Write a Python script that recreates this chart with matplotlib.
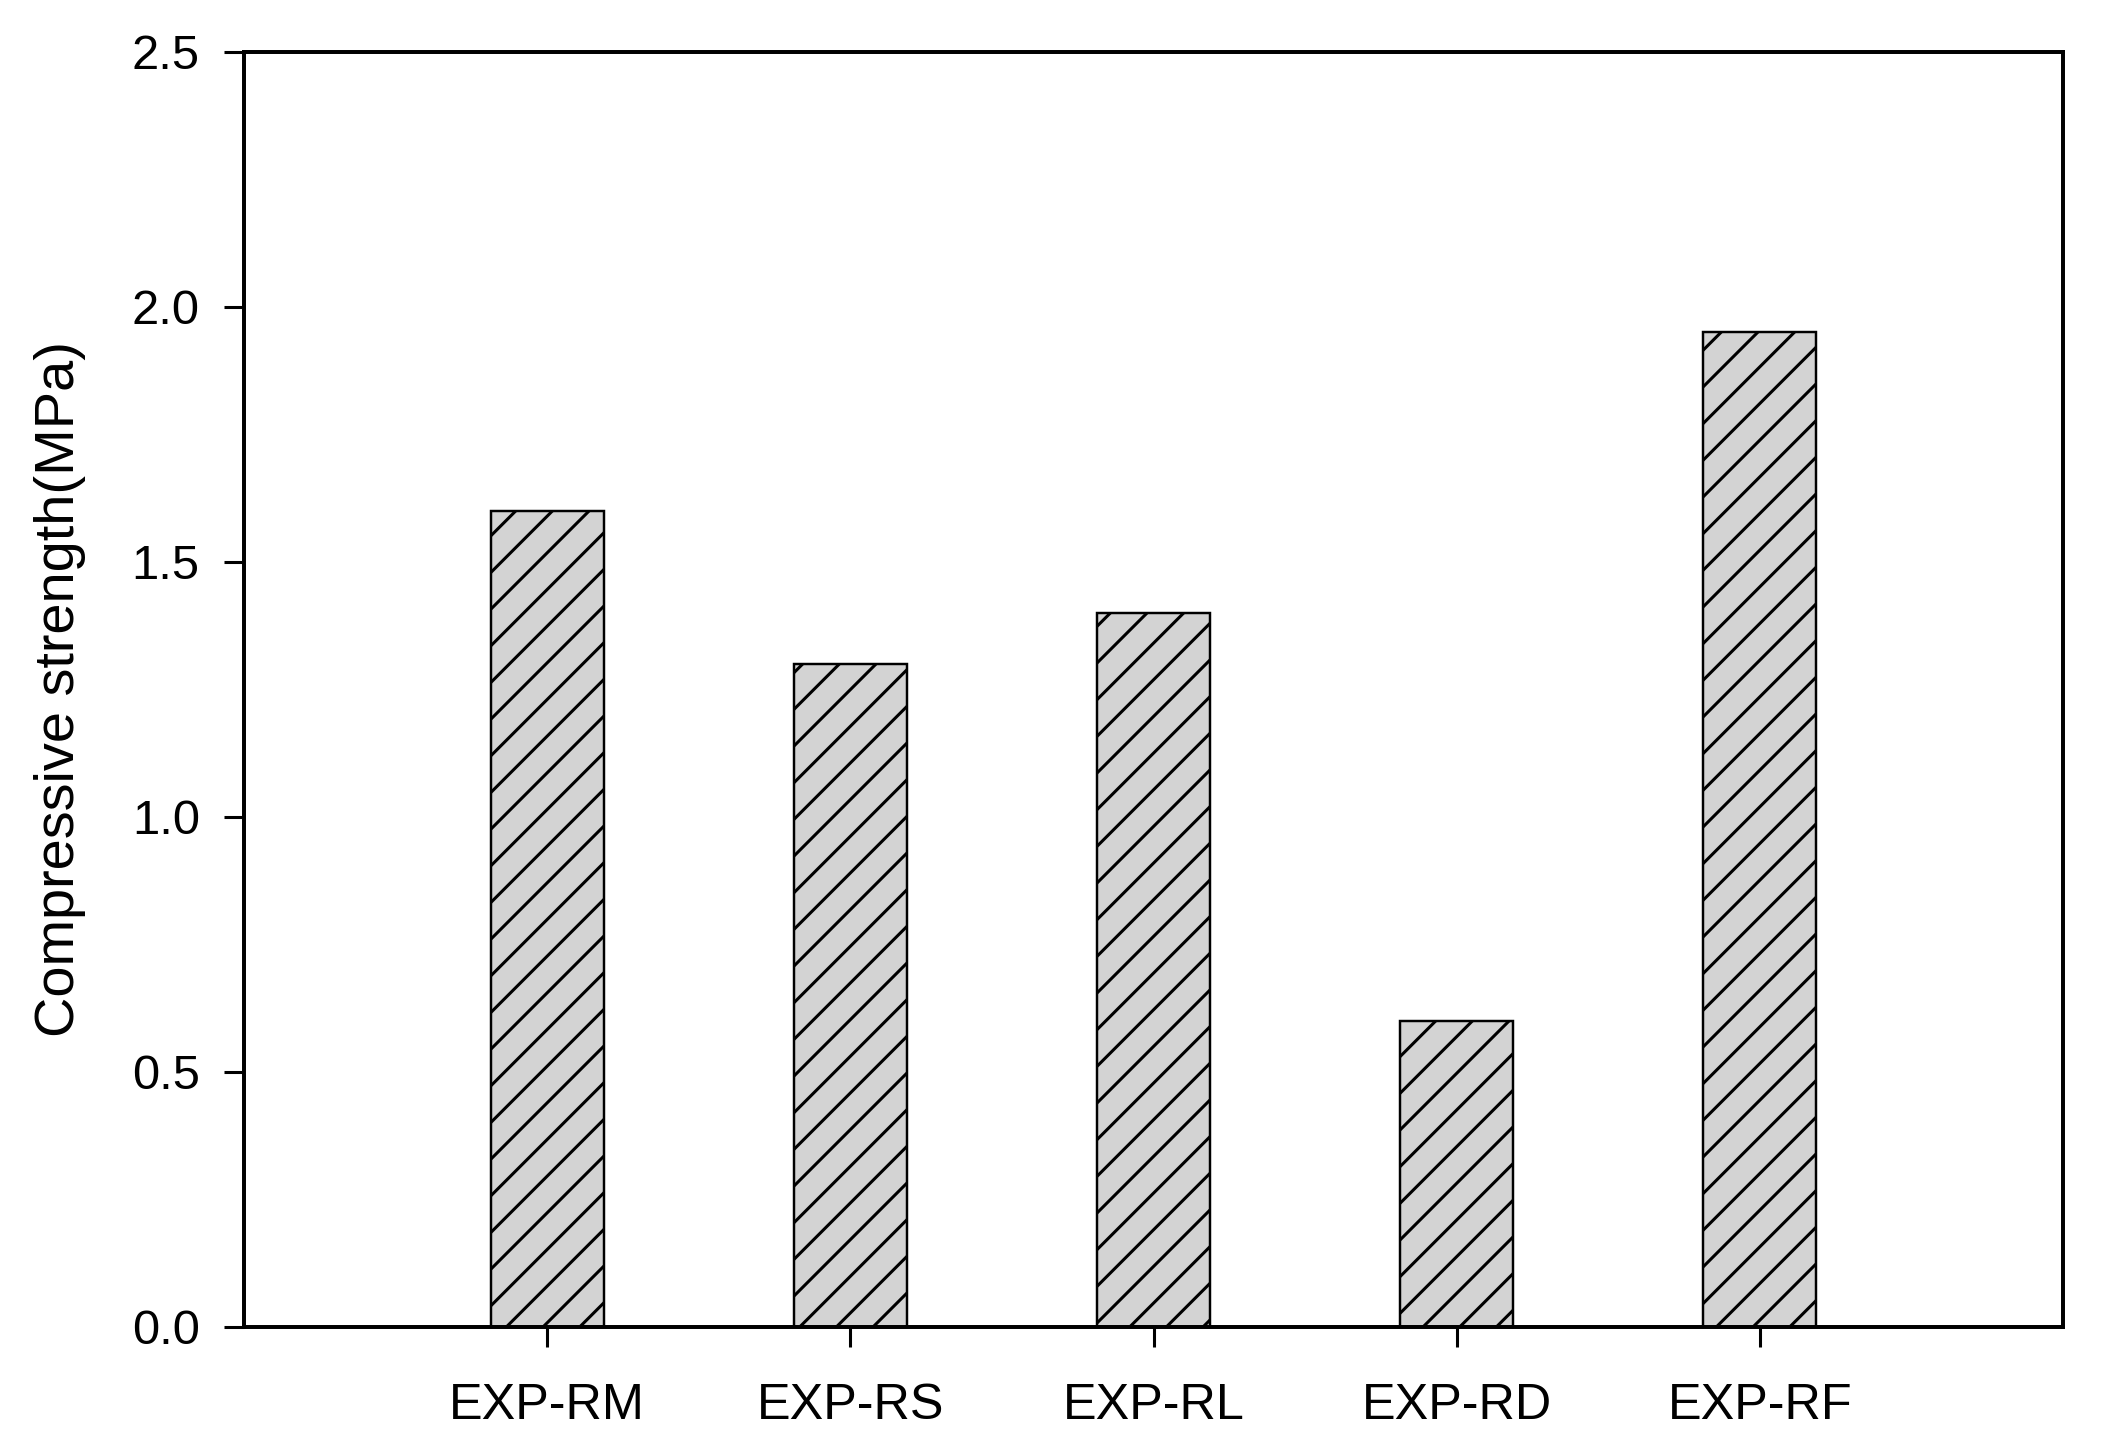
import matplotlib
matplotlib.use("Agg")
import matplotlib.pyplot as plt

# Data
samples = ["EXP-RM", "EXP-RS", "EXP-RL", "EXP-RD", "EXP-RF"]
strength = [1.6, 1.3, 1.4, 0.6, 1.95]
y_ticks = [0.0, 0.5, 1.0, 1.5, 2.0, 2.5]

plt.rcParams["font.family"] = ["Liberation Sans", "DejaVu Sans"]
plt.rcParams["hatch.linewidth"] = 1.0

fig = plt.figure(figsize=(2106 / 220, 1455 / 220), dpi=220)
ax = fig.add_axes([0.1159, 0.088, 0.8637, 0.8763])

x = range(1, len(samples) + 1)
ax.bar(x, strength, width=0.373, color="lightgray", edgecolor="black",
       linewidth=0.8, hatch="//")

ax.set_xlim(0, 6)
ax.set_ylim(0, 2.5)
ax.set_xticks(list(x))
ax.set_xticklabels(samples, fontsize=16.5)
ax.set_yticks(y_ticks)
ax.set_yticklabels([f"{v:.1f}" for v in y_ticks], fontsize=16)

ax.set_ylabel("Compressive strength(MPa)", fontsize=18.3, labelpad=15)
ax.tick_params(axis="both", direction="out", length=6.5, width=1.0)
ax.tick_params(axis="y", pad=8)
ax.tick_params(axis="x", pad=12)

for s in ax.spines.values():
    s.set_linewidth(1.3)

fig.savefig("out.png", dpi=220)
